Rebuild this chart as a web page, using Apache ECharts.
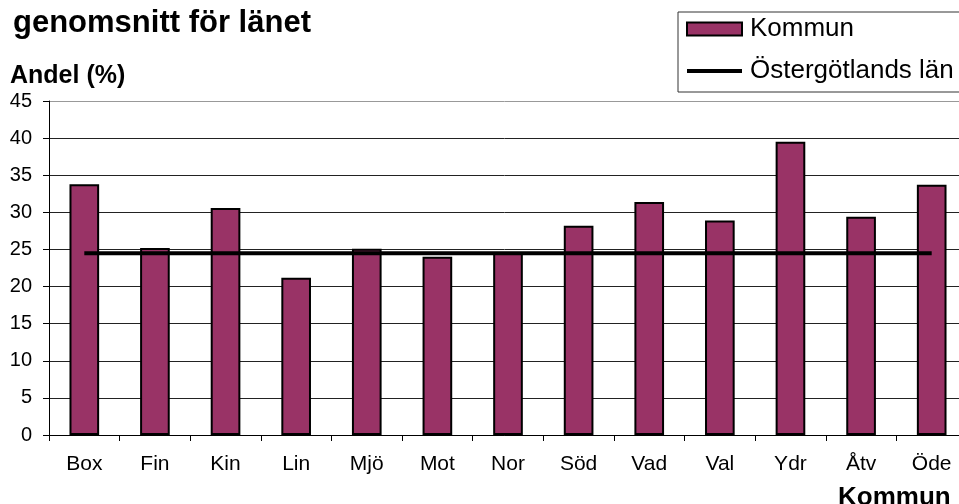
<!DOCTYPE html>
<html>
<head>
<meta charset="utf-8">
<script src="https://cdn.jsdelivr.net/npm/echarts@6/dist/echarts.min.js"></script>
<style>
  html, body { margin: 0; padding: 0; background: #fff; }
  #main { width: 959px; height: 504px; }
</style>
</head>
<body>
<div id="main"></div>
<script>
var kommuner = ['Box', 'Fin', 'Kin', 'Lin', 'Mjö', 'Mot', 'Nor', 'Söd', 'Vad', 'Val', 'Ydr', 'Åtv', 'Öde'];
var andelKommun = [33.8, 25.2, 30.6, 21.2, 25.1, 24.0, 24.6, 28.2, 31.4, 28.9, 39.5, 29.4, 33.7];
var andelLan = [24.5, 24.5, 24.5, 24.5, 24.5, 24.5, 24.5, 24.5, 24.5, 24.5, 24.5, 24.5, 24.5];

var font = '"Liberation Sans", Arial, sans-serif';
var chart = echarts.init(document.getElementById('main'));

var option = {
    animation: false,
    backgroundColor: '#fff',
    title: [
        {
            text: 'genomsnitt för länet',
            left: 8, top: 3,
            textStyle: { fontFamily: font, fontSize: 31, fontWeight: 'bold', color: '#000' }
        },
        {
            text: 'Andel (%)',
            left: 5, top: 59,
            textStyle: { fontFamily: font, fontSize: 25, fontWeight: 'bold', color: '#000' }
        },
        {
            text: 'Kommun',
            left: 833, top: 480,
            textStyle: { fontFamily: font, fontSize: 26, fontWeight: 'bold', color: '#000' }
        }
    ],
    legend: {
        orient: 'vertical',
        left: 678, top: 12,
        padding: [4, 30, 8, 8],
        itemWidth: 55, itemHeight: 13, itemGap: 16,
        borderColor: '#333', borderWidth: 1,
        textStyle: { fontFamily: font, fontSize: 26, lineHeight: 24, color: '#000', padding: [0, 0, 0, 3] },
        data: [
            { name: 'Kommun', icon: 'rect' },
            { name: 'Östergötlands län', icon: 'path://M0,0 L55,0 L55,4 L0,4 Z' }
        ]
    },
    grid: { left: 49, top: 101, bottom: 69, width: 918, outerBoundsMode: 'none' },
    xAxis: {
        type: 'category',
        data: kommuner,
        axisLine: { lineStyle: { color: '#000', width: 1 } },
        axisTick: { show: true, length: 6, lineStyle: { color: '#000' } },
        axisLabel: { fontFamily: font, fontSize: 21, color: '#000', margin: 19 }
    },
    yAxis: {
        type: 'value',
        min: 0, max: 45, interval: 5,
        axisLine: { show: true, lineStyle: { color: '#000', width: 1 } },
        axisTick: { show: true, length: 6, lineStyle: { color: '#000' } },
        axisLabel: { fontFamily: font, fontSize: 20, color: '#000', margin: 17 },
        splitLine: {
            show: true,
            lineStyle: {
                color: ['#222', '#222', '#222', '#222', '#222', '#222', '#222', '#222', '#222', '#999'],
                width: 1
            }
        }
    },
    series: [
        {
            name: 'Kommun',
            type: 'bar',
            data: andelKommun,
            barCategoryGap: '58%',
            itemStyle: { color: '#993366', borderColor: '#000', borderWidth: 2 }
        },
        {
            name: 'Östergötlands län',
            type: 'line',
            data: andelLan,
            symbol: 'none',
            color: '#000',
            lineStyle: { color: '#000', width: 4 },
            z: 3
        }
    ]
};

chart.setOption(option);
</script>
</body>
</html>
